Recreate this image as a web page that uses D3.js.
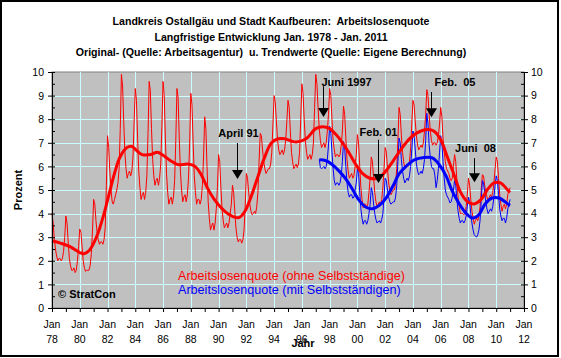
<!DOCTYPE html>
<html><head><meta charset="utf-8">
<script src="https://cdn.jsdelivr.net/npm/d3@7"></script>
<style>
html,body{margin:0;padding:0;background:#fff;}
svg{display:block;}
text{font-family:"Liberation Sans",Arial,sans-serif;white-space:pre;}
</style>
</head><body><svg id="c" width="561" height="358"></svg>
<script>
// ---------- DATA ----------
const titleLines = [
  "Landkreis Ostallgäu und Stadt Kaufbeuren:  Arbeitslosenquote",
  "Langfristige Entwicklung Jan. 1978 - Jan. 2011",
  "Original- (Quelle: Arbeitsagentur)  u. Trendwerte (Quelle: Eigene Berechnung)"
];
const yTickValues = [0,1,2,3,4,5,6,7,8,9,10];
const xTickYears = d3.range(1978, 2013, 1);
const xLabelYears = d3.range(1978, 2013, 2);
const seriesNames = ["Arbeitslosenquote (ohne Selbstständige)", "Arbeitslosenquote (mit Selbstständigen)"];

// monthly original values, "ohne Selbstständige", Jan 1978 .. Jan 2011
const ohneStart = 1978;
const ohneOriginal = [
 4.0,3.6,2.9,2.5,2.2,2.0,2.1,2.1,2.0,2.1,2.4,3.0,
 3.9,3.6,2.8,2.1,1.8,1.6,1.6,1.7,1.5,1.6,2.0,2.6,
 3.35,3.2,2.6,2.0,1.7,1.55,1.6,1.6,1.6,1.8,2.3,3.3,
 4.6,4.4,3.7,3.2,2.9,2.7,2.8,2.8,2.7,2.9,3.4,5.2,
 7.3,6.8,5.8,5.0,4.5,4.4,4.6,4.8,5.0,5.3,5.9,7.6,
 9.9,9.4,7.9,6.6,5.9,5.5,5.7,5.8,5.6,5.8,6.4,7.9,
 9.3,8.8,7.2,5.8,5.1,4.6,4.8,4.9,4.6,4.9,5.6,7.4,
 9.6,9.2,7.6,6.3,5.6,5.2,5.4,5.5,5.2,5.5,6.1,7.7,
 9.6,9.0,7.2,5.7,4.9,4.4,4.6,4.7,4.4,4.7,5.4,7.1,
 9.3,8.9,7.2,5.8,5.0,4.5,4.7,4.8,4.5,4.8,5.5,7.0,
 9.1,8.6,7.0,5.6,4.9,4.4,4.6,4.6,4.4,4.6,5.2,6.4,
 8.1,7.6,6.0,4.5,3.8,3.3,3.5,3.6,3.3,3.6,4.2,5.1,
 6.5,6.2,5.1,4.2,3.7,3.4,3.5,3.6,3.4,3.6,4.0,4.4,
 5.2,4.9,4.1,3.4,3.0,2.8,2.9,2.9,2.75,2.9,3.3,4.3,
 5.7,5.5,4.9,4.4,4.1,3.95,4.0,4.1,4.0,4.3,4.9,6.2,
 7.4,7.3,6.7,6.2,5.9,5.7,5.8,5.9,5.9,6.1,6.6,7.8,
 9.0,8.7,7.9,7.1,6.7,6.5,6.6,6.7,6.5,6.7,7.1,7.9,
 8.8,8.5,7.5,6.6,6.2,5.9,6.0,6.1,5.95,6.1,6.6,8.0,
 9.5,9.1,8.0,7.1,6.6,6.3,6.4,6.5,6.3,6.5,7.0,8.5,
 9.9,9.5,8.5,7.6,7.1,6.8,6.9,7.0,6.8,7.0,7.5,8.2,
 9.3,9.0,8.0,7.1,6.7,6.4,6.5,6.5,6.4,6.5,6.9,7.5,
 8.55,8.2,7.2,6.3,5.8,5.5,5.6,5.7,5.5,5.6,6.0,6.5,
 7.35,7.0,6.0,5.1,4.6,4.25,4.4,4.4,4.25,4.4,4.9,5.5,
 6.4,6.2,5.5,4.9,4.5,4.3,4.4,4.5,4.4,4.6,5.1,5.9,
 6.8,6.6,5.9,5.3,5.0,4.8,4.9,5.0,5.0,5.3,5.9,7.1,
 8.5,8.2,7.3,6.6,6.2,5.9,6.0,6.1,6.0,6.2,6.8,7.8,
 8.8,8.6,7.9,7.3,6.9,6.7,6.8,6.9,6.8,7.0,7.5,8.2,
 9.25,9.0,8.2,7.5,7.1,6.9,7.0,7.0,6.9,7.0,7.3,7.8,
 8.5,8.1,7.2,6.6,6.2,5.9,5.8,5.7,5.5,5.4,5.5,6.0,
 6.5,6.2,5.4,4.7,4.3,4.0,4.0,4.0,3.95,4.0,4.3,4.8,
 5.5,5.2,4.6,4.1,3.8,3.55,3.7,3.8,3.7,3.9,4.3,5.0,
 5.65,5.6,5.2,4.9,4.7,4.55,4.7,4.8,4.7,4.9,5.3,5.9,
 6.4,6.2,5.5,4.8,4.4,4.1,4.3,4.4,4.2,4.4,4.8,5.0,
 5.1
];

// monthly original values, "mit Selbstständigen", Apr 1997 .. Jan 2011
const mitStart = 1997 + 3/12;
const mitOriginal = [
 6.3,5.95,5.9,5.95,6.0,5.9,6.0,6.3,6.9,
 7.7,7.4,6.6,5.9,5.4,5.2,5.3,5.3,5.2,5.3,5.6,6.2,
 7.05,6.8,6.0,5.3,4.9,4.7,4.8,4.8,4.65,4.7,5.0,5.3,
 5.9,5.7,4.9,4.2,3.8,3.55,3.7,3.7,3.55,3.7,4.0,4.4,
 5.1,4.9,4.4,4.0,3.75,3.6,3.65,3.7,3.6,3.75,4.0,4.7,
 5.5,5.4,5.0,4.7,4.5,4.4,4.45,4.5,4.5,4.7,5.2,6.2,
 7.2,7.0,6.3,5.8,5.5,5.3,5.4,5.5,5.4,5.6,6.0,6.7,
 7.5,7.3,6.7,6.1,5.8,5.65,5.7,5.8,5.7,5.9,6.3,7.1,
 8.25,7.8,6.9,6.4,6.0,5.9,5.9,5.6,5.1,5.4,5.9,6.6,
 7.3,7.0,6.2,5.5,5.0,4.8,4.7,4.6,4.45,4.5,4.7,5.0,
 5.4,5.2,4.6,4.1,3.8,3.6,3.7,3.7,3.6,3.7,3.9,4.3,
 4.7,4.5,4.0,3.6,3.3,3.1,3.05,3.0,3.1,3.3,3.7,4.5,
 5.4,5.3,4.9,4.5,4.2,4.0,4.1,4.2,4.1,4.3,4.7,5.2,
 5.6,5.4,4.8,4.2,3.9,3.7,3.8,3.8,3.6,3.8,4.2,4.4,
 4.6
];

// trend values read at key dates
const ohneTrendYears = [1978.0,1978.6,1979.3,1980.0,1980.3,1980.7,1981.2,1981.7,1982.1,1982.5,1982.9,1983.4,1983.75,1984.1,1984.5,1985.1,1985.6,1986.1,1986.6,1987.1,1987.8,1988.3,1988.75,1989.2,1989.7,1990.2,1990.7,1991.2,1991.5,1991.9,1992.35,1992.8,1993.3,1993.8,1994.3,1994.75,1995.2,1995.6,1996.3,1997.0,1997.5,1998.0,1998.46,1998.94,1999.4,1999.9,2000.4,2000.86,2001.34,2001.82,2002.3,2002.8,2003.3,2003.8,2004.3,2005.0,2005.5,2006.0,2006.5,2006.96,2007.4,2007.9,2008.4,2008.9,2009.36,2009.84,2010.3,2010.9,2011.0];
const ohneTrendValues = [2.85,2.75,2.6,2.35,2.3,2.45,3.0,3.9,4.8,5.7,6.4,6.8,6.85,6.67,6.5,6.5,6.6,6.43,6.22,6.07,6.1,6.0,5.65,5.08,4.59,4.24,3.98,3.84,3.84,4.1,4.73,5.51,6.36,6.99,7.17,7.17,7.08,7.03,7.17,7.6,7.68,7.6,7.35,6.99,6.57,6.07,5.68,5.51,5.48,5.65,6.0,6.43,6.85,7.2,7.42,7.56,7.5,7.13,6.36,5.65,4.94,4.52,4.41,4.59,5.01,5.3,5.3,4.95,4.9];
const mitTrendYears = [1997.26,1997.74,1998.2,1998.7,1999.2,1999.66,2000.14,2000.62,2001.1,2001.58,2002.06,2002.55,2003.0,2003.5,2004.1,2004.8,2005.4,2005.9,2006.4,2006.84,2007.3,2007.8,2008.3,2008.75,2009.2,2009.7,2010.2,2010.9,2011.0];
const mitTrendValues = [6.28,6.24,6.07,5.79,5.44,5.01,4.55,4.27,4.21,4.35,4.66,5.16,5.68,6.0,6.28,6.38,6.36,6.07,5.58,4.94,4.45,4.03,3.81,3.95,4.41,4.66,4.66,4.38,4.35];

// annotations: label and the date they point at
const annLabels = ["April 91", "Juni 1997", "Feb. 01", "Feb.  05", "Juni  08"];
const annDates  = [1991.33, 1997.52, 2001.5, 2005.28, 2008.4];

// ---------- LAYOUT ----------
const W = 561, H = 358;
const plot = {left: 52, right: 524, top: 72, bottom: 308};
const annLayout = [ // text value, arrow top value, arrow tip value, anchor, dx
  {ty: 7.42, a0: 6.99, a1: 5.47, anchor: "middle", dx: 1},
  {ty: 9.58, a0: 9.4,  a1: 8.09, anchor: "start",  dx: -2},
  {ty: 7.46, a0: 7.13, a1: 5.3,  anchor: "middle", dx: 0},
  {ty: 9.58, a0: 9.15, a1: 8.08, anchor: "start",  dx: 3},
  {ty: 6.8,  a0: 6.35, a1: 5.33, anchor: "middle", dx: 1}
];

const svg = d3.select("#c");
svg.append("rect").attr("x",0).attr("y",0).attr("width",W).attr("height",H).attr("fill","#fff");
svg.append("rect").attr("x",1).attr("y",1).attr("width",557).attr("height",355)
  .attr("fill","none").attr("stroke","#000").attr("stroke-width",2);

const x = d3.scaleLinear().domain([1978, 2012]).range([plot.left, plot.right]);
const y = d3.scaleLinear().domain([0, 10]).range([plot.bottom, plot.top]);

// title
svg.append("g").selectAll("text").data(titleLines).join("text")
  .attr("x", 271).attr("y", (d,i) => 25 + i*15.5)
  .attr("text-anchor","middle").attr("font-size","10.6px").attr("font-weight","bold")
  .text(d => d);

// plot background
svg.append("rect").attr("x",plot.left).attr("y",plot.top)
  .attr("width",plot.right-plot.left).attr("height",plot.bottom-plot.top)
  .attr("fill","#c0c0c0").attr("stroke","#808080").attr("stroke-width",1);

// grid
const grid = svg.append("g").attr("stroke","#ccffff").attr("stroke-width",1);
grid.selectAll("line.h").data(yTickValues.filter(v=>v>0 && v<10)).join("line")
  .attr("x1",plot.left).attr("x2",plot.right)
  .attr("y1",d=>Math.round(y(d))+0.5).attr("y2",d=>Math.round(y(d))+0.5);
grid.selectAll("line.v").data(xLabelYears.filter(v=>v>1978 && v<2012)).join("line")
  .attr("y1",plot.top).attr("y2",plot.bottom)
  .attr("x1",d=>Math.round(x(d))+0.5).attr("x2",d=>Math.round(x(d))+0.5);

// series
const monthLine = start => d3.line().x((d,i)=>x(start + i/12)).y(d=>y(d));
const trendLine = d3.line().x(d=>x(d[0])).y(d=>y(d[1])).curve(d3.curveCatmullRom.alpha(0.5));

svg.append("path").datum(ohneOriginal).attr("d", monthLine(ohneStart))
  .attr("fill","none").attr("stroke","#ff0000").attr("stroke-width",1);
svg.append("path").datum(mitOriginal).attr("d", monthLine(mitStart))
  .attr("fill","none").attr("stroke","#0000ff").attr("stroke-width",1);
svg.append("path").datum(d3.zip(ohneTrendYears, ohneTrendValues)).attr("d", trendLine)
  .attr("fill","none").attr("stroke","#ff0000").attr("stroke-width",3);
svg.append("path").datum(d3.zip(mitTrendYears, mitTrendValues)).attr("d", trendLine)
  .attr("fill","none").attr("stroke","#0000ff").attr("stroke-width",3);

// axes
const fs = "10.5px";
function styleAxis(g){
  g.select(".domain").attr("stroke","#000");
  g.selectAll(".tick line").attr("stroke","#000");
  g.selectAll("text").attr("font-size",fs).attr("font-family","'Liberation Sans',Arial,sans-serif").attr("fill","#000");
}
const halfTicks = d3.range(0, 10.01, 0.5);
// left
svg.append("g").attr("transform",`translate(${plot.left},0)`)
  .call(d3.axisLeft(y).tickValues(yTickValues).tickSize(4).tickSizeOuter(0).tickPadding(4).tickFormat(d3.format("d")))
  .call(styleAxis).call(g=>g.selectAll("text").attr("dy","0.35em"));
svg.append("g").attr("transform",`translate(${plot.left},0)`)
  .call(d3.axisRight(y).tickValues(halfTicks).tickSize(3).tickSizeOuter(0).tickFormat(""))
  .call(styleAxis);
// right
svg.append("g").attr("transform",`translate(${plot.right},0)`)
  .call(d3.axisRight(y).tickValues(yTickValues).tickSize(4).tickSizeOuter(0).tickPadding(3).tickFormat(d3.format("d")))
  .call(styleAxis);
svg.append("g").attr("transform",`translate(${plot.right},0)`)
  .call(d3.axisLeft(y).tickValues(halfTicks).tickSize(3).tickSizeOuter(0).tickFormat(""))
  .call(styleAxis);
// bottom
svg.append("g").attr("transform",`translate(0,${plot.bottom})`)
  .call(d3.axisBottom(x).tickValues(xTickYears).tickSize(4).tickSizeOuter(0).tickFormat(""))
  .call(styleAxis);
const xl = svg.append("g").attr("font-size",fs).attr("text-anchor","middle");
xl.selectAll("text.m").data(xLabelYears).join("text")
  .attr("x",d=>x(d)).attr("y",328).text("Jan");
xl.selectAll("text.yr").data(xLabelYears).join("text")
  .attr("x",d=>x(d)).attr("y",343).text(d=>String(d%100).padStart(2,"0"));

// axis titles
svg.append("text").attr("transform","translate(22,190) rotate(-90)")
  .attr("text-anchor","middle").attr("font-size","11px").attr("font-weight","bold").text("Prozent");
svg.append("text").attr("x",303).attr("y",347)
  .attr("text-anchor","middle").attr("font-size","11px").attr("font-weight","bold").text("Jahr");

// legend
const legendColors = ["#ff0000","#0000ff"];
svg.append("g").selectAll("text").data(seriesNames).join("text")
  .attr("x",178).attr("y",(d,i)=>279.5 + i*14.5)
  .attr("font-size","12.6px").attr("fill",(d,i)=>legendColors[i]).text(d=>d);
svg.append("text").attr("x",58).attr("y",298).attr("font-size","11px").attr("font-weight","bold").text("© StratCon");

// annotations
const ann = svg.append("g");
annLabels.forEach((lab,i)=>{
  const L = annLayout[i], ax = Math.round(x(annDates[i]))+0.5;
  ann.append("text").attr("x",ax+L.dx).attr("y",y(L.ty)+4)
    .attr("text-anchor",L.anchor).attr("font-size","11px").attr("font-weight","bold").text(lab);
  const tip = y(L.a1);
  ann.append("line").attr("x1",ax).attr("x2",ax).attr("y1",y(L.a0)).attr("y2",tip-4)
    .attr("stroke","#000").attr("stroke-width",1);
  ann.append("path").attr("d",`M${ax-5.5},${tip-9}L${ax+5.5},${tip-9}L${ax},${tip}Z`).attr("fill","#000");
});
</script>
</body></html>
